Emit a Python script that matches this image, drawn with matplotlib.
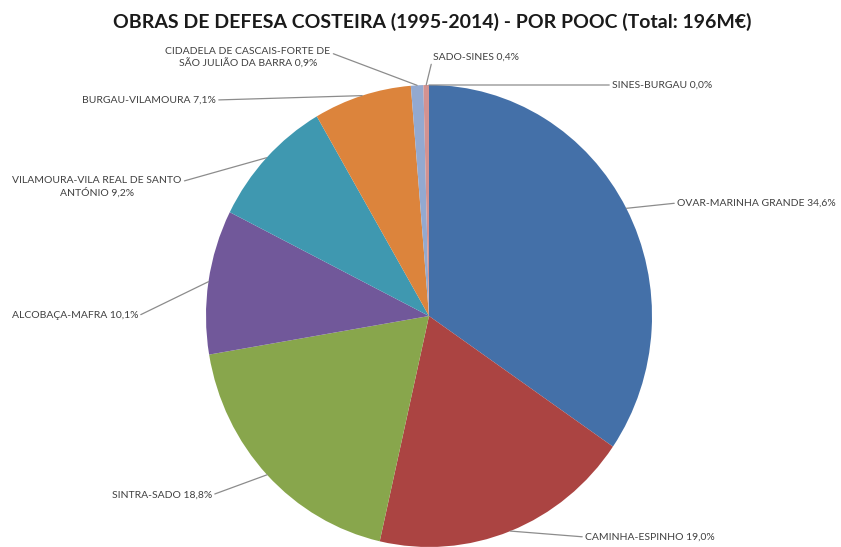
import numpy as np
import matplotlib
matplotlib.use("Agg")
import matplotlib.pyplot as plt

# -----------------------
# Data
# -----------------------
LABELS = [
    "OVAR-MARINHA GRANDE",
    "CAMINHA-ESPINHO",
    "SINTRA-SADO",
    "ALCOBAÇA-MAFRA",
    "VILAMOURA-VILA REAL DE SANTO\nANTÓNIO",
    "BURGAU-VILAMOURA",
    "CIDADELA DE CASCAIS-FORTE DE\nSÃO JULIÃO DA BARRA",
    "SADO-SINES",
    "SINES-BURGAU",
]
SHARES = [34.6, 19.0, 18.8, 10.1, 9.2, 7.1, 0.9, 0.4, 0.0]
TITLE = "OBRAS DE DEFESA COSTEIRA (1995-2014) - POR POOC (Total: 196M€)"

# -----------------------
# Style
# -----------------------
COLORS = ["#4470A8", "#AB4442", "#88A64C", "#71589A", "#3F98B0",
          "#DC843C", "#93A9D0", "#D39291", "#A0B860"]
TEXT_COLOR = "#404040"
LINE_COLOR = "#8C8C8C"
FONT = ["Lato", "DejaVu Sans"]

# label layout (x px, y px from bottom, ha, relpos of the leader line)
LAYOUT = [
    (677, 344, "left", (0, 0.5)),
    (585, 10, "left", (0, 0.5)),
    (212, 52, "right", (1, 0.5)),
    (138, 231, "right", (1, 0.5)),
    (97, 360, "center", (1, 0.75)),
    (216, 447, "right", (1, 0.5)),
    (248, 489, "center", (1, 0.75)),
    (433, 490, "left", (0, 0.5)),
    (612, 462, "left", (0, 0.5)),
]

W, H = 841, 547
RX, RY = 223.0, 231.0          # pie is drawn slightly taller than wide
KX = RY / RX                   # px -> data units along x


def px(x):
    return x * KX


CENTER = (px(429), 231)
RADIUS = RY

fig = plt.figure(figsize=(W / 100, H / 100), dpi=100)
ax = fig.add_axes([0, 0, 1, 1])

wedges, _ = ax.pie(SHARES, colors=COLORS, startangle=90, counterclock=False,
                   center=CENTER, radius=RADIUS, wedgeprops=dict(linewidth=0),
                   frame=True)
ax.set_aspect("auto")
ax.set_xlim(0, px(W))
ax.set_ylim(0, H)
ax.axis("off")

for w, lab, val, (tx, ty, ha, rel) in zip(wedges, LABELS, SHARES, LAYOUT):
    ang = np.deg2rad((w.theta1 + w.theta2) / 2)
    ax_x = CENTER[0] + RADIUS * np.cos(ang)
    ax_y = CENTER[1] + RADIUS * np.sin(ang)
    txt = f"{lab} {val:.1f}%".replace(".", ",")
    ax.annotate(txt, xy=(ax_x, ax_y), xytext=(px(tx), ty), ha=ha, va="center",
                multialignment="center", fontsize=7.5, family=FONT,
                color=TEXT_COLOR, linespacing=1.25,
                arrowprops=dict(arrowstyle="-", color=LINE_COLOR, lw=0.9,
                                shrinkA=0, shrinkB=0, relpos=rel))

ax.text(px(432), 525, TITLE, ha="center", va="center", fontsize=14,
        fontweight="bold", family=FONT, color="#1a1a1a")

fig.savefig("out.png", dpi=100)
